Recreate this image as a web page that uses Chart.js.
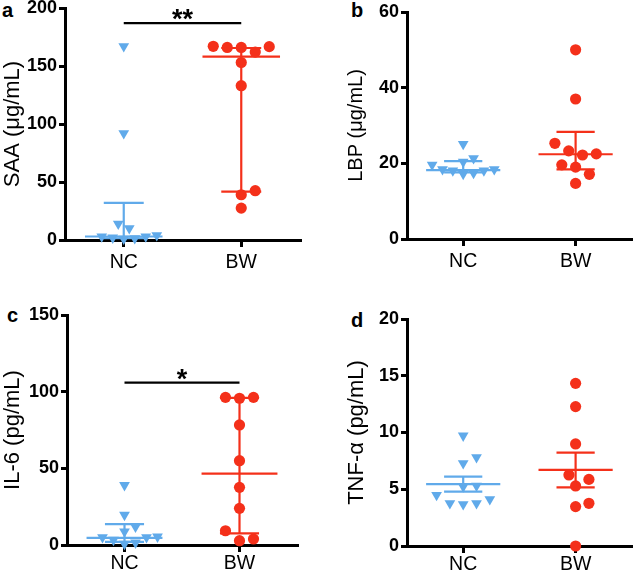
<!DOCTYPE html>
<html>
<head>
<meta charset="utf-8">
<script src="https://cdn.jsdelivr.net/npm/chart.js@4/dist/chart.umd.min.js"></script>
<style>
  html, body { margin: 0; padding: 0; background: #fff; }
  body { width: 638px; height: 574px; position: relative; overflow: hidden; font-family: 'Liberation Sans', Arial, sans-serif; }
  .layer { position: absolute; left: 0; top: -20px; }
  .tag { position: absolute; font-weight: bold; font-size: 20px; line-height: 20px; color: #000; }
</style>
</head>
<body>
<div class="tag" style="left:2px;top:0px">a</div>
<div class="tag" style="left:351px;top:0px">b</div>
<div class="tag" style="left:7px;top:305px">c</div>
<div class="tag" style="left:351px;top:310px">d</div>
<canvas id="chartA" class="layer" width="638" height="614"></canvas>
<canvas id="chartB" class="layer" width="638" height="614"></canvas>
<canvas id="chartC" class="layer" width="638" height="614"></canvas>
<canvas id="chartD" class="layer" width="638" height="614"></canvas>
<script>
const categories = ['NC', 'BW'];

// a: SAA (µg/mL), median with interquartile range
const saaNC = [167, 92, 10, 14, 4, 3, 2, 1, 1.5, 3];
const saaBW = [167, 166, 162, 166, 166.7, 153, 133, 42.5, 39, 27.5];
const saaMid = [3, 158];
const saaLow = [1.5, 41.7];
const saaHigh = [32, 165.5];
const saaTicks = [0, 50, 100, 150, 200];

// b: LBP (µg/mL), median with interquartile range
const lbpNC = [25.1, 21.3, 19.6, 20.4, 18.4, 18.1, 17.2, 17.4, 18.1, 18.4];
const lbpBW = [50, 37, 25.3, 22.5, 22.2, 23.3, 19.6, 19.0, 17.1, 14.7];
const lbpMid = [18.2, 22.4];
const lbpLow = [17.6, 18.4];
const lbpHigh = [20.6, 28.3];
const lbpTicks = [0, 20, 40, 60];

// c: IL-6 (pg/mL), median with interquartile range
const il6NC = [39, 19.6, 11.9, 8.7, 5, 3.3, 1.5, 0.7, 5, 5.4];
const il6BW = [96.3, 95.7, 96.3, 78.3, 55, 37.6, 23.9, 9.3, 2.8, 3.9];
const il6Mid = [4.6, 46.6];
const il6Low = [2, 7.6];
const il6High = [13.6, 95.9];
const il6Ticks = [0, 50, 100, 150];

// d: TNF-α (pg/mL), mean ± SEM
const tnfNC = [9.72, 7.81, 7.28, 5.31, 5.23, 4.49, 3.76, 3.67, 3.76, 4.11];
const tnfBW = [14.33, 12.28, 8.99, 6.26, 5.87, 5.29, 3.76, 3.47, 0];
const tnfMid = [5.46, 6.70];
const tnfLow = [4.79, 5.17];
const tnfHigh = [6.11, 8.22];
const tnfTicks = [0, 5, 10, 15, 20];

// significance brackets: [from, to, value]
const saaSig = [1, 2, 187];
const il6Sig = [1, 2, 105.9];

const BLUE = '#60aaea';
const RED = '#f4301a';
const FONT = "'Liberation Sans', Arial, sans-serif";
const OFF = 20; // canvases are shifted up by this much

// simple beeswarm: spread points sideways so markers don't overlap
function swarm(values, pxPerUnit, gap) {
  const order = values.map((v, i) => i).sort((i, j) => values[i] - values[j]);
  const placed = [];
  const off = new Array(values.length);
  for (const i of order) {
    const y = values[i] * pxPerUnit;
    for (let k = 0; k < 40; k++) {
      const cands = k === 0 ? [0] : [k * gap / 2, -k * gap / 2];
      const ok = cands.find(c => placed.every(p => Math.hypot(p.x - c, p.y - y) >= gap * 0.95));
      if (ok !== undefined) {
        off[i] = ok;
        placed.push({ x: ok, y: y });
        break;
      }
    }
  }
  return off;
}

function segment(x0, x1, y0, y1, color) {
  return {
    type: 'scatter', showLine: true, data: [{ x: x0, y: y0 }, { x: x1, y: y1 }],
    borderColor: color, borderWidth: 2.2, pointRadius: 0, clip: false, order: 0
  };
}

const sigPlugin = {
  id: 'sig',
  afterDatasetsDraw(chart, args, opts) {
    if (!opts.text) return;
    const { ctx, scales } = chart;
    const x = scales.x.getPixelForValue((opts.from + opts.to) / 2);
    const y = scales.y.getPixelForValue(opts.value);
    ctx.save();
    ctx.fillStyle = '#000';
    ctx.font = 'bold 27px ' + FONT;
    ctx.textAlign = 'center';
    ctx.textBaseline = 'alphabetic';
    ctx.fillText(opts.text, x, y + opts.dy);
    ctx.restore();
  }
};

function makePanel(id, p) {
  const areaW = p.area.right - p.area.left;
  const areaH = p.area.bottom - p.area.top;
  const ymax = p.ticks[p.ticks.length - 1];
  const pxY = areaH / ymax;
  const pxX = areaW / 2;
  const groups = [p.nc, p.bw];
  const datasets = [];
  const colors = [BLUE, RED];

  for (let g = 0; g < 2; g++) {
    const cx = g + 1;
    const c = colors[g];
    datasets.push(segment(cx, cx, p.low[g], p.high[g], c));
    datasets.push(segment(cx - 0.33, cx + 0.33, p.mid[g], p.mid[g], c));
    datasets.push(segment(cx - 0.17, cx + 0.17, p.low[g], p.low[g], c));
    datasets.push(segment(cx - 0.17, cx + 0.17, p.high[g], p.high[g], c));
  }
  if (p.sig) {
    datasets.push(segment(p.sig[0], p.sig[1], p.sig[2], p.sig[2], '#000'));
  }
  for (let g = 0; g < 2; g++) {
    const vals = groups[g];
    const gap = g === 0 ? p.gapTri : p.gapDot;
    const off = swarm(vals, pxY, gap);
    datasets.push({
      type: 'scatter',
      data: vals.map((v, i) => ({ x: g + 1 + off[i] / pxX, y: v })),
      pointStyle: g === 0 ? 'triangle' : 'circle',
      rotation: g === 0 ? 180 : 0,
      pointRadius: g === 0 ? 6.2 : 5.6,
      backgroundColor: colors[g],
      borderWidth: 0,
      clip: false,
      order: 1
    });
  }

  const canvasH = 574 + OFF * 2;
  const yWidth = p.area.left - p.titleLeft;
  const xHeight = 40;

  new Chart(document.getElementById(id), {
    type: 'scatter',
    data: { datasets },
    plugins: [sigPlugin],
    options: {
      responsive: false,
      animation: false,
      events: [],
      layout: {
        padding: {
          left: p.titleLeft,
          right: 638 - p.area.right,
          top: p.area.top + OFF,
          bottom: canvasH - (p.area.bottom + OFF) - xHeight
        }
      },
      plugins: {
        legend: { display: false },
        tooltip: { enabled: false },
        sig: p.sig ? { from: p.sig[0], to: p.sig[1], value: p.sig[2], text: p.sigText, dy: p.sigDy } : {}
      },
      scales: {
        x: {
          type: 'linear', min: 0.5, max: 2.5,
          afterBuildTicks: s => { s.ticks = [{ value: 1 }, { value: 2 }]; },
          afterFit: s => { s.height = xHeight; },
          ticks: {
            callback: v => categories[v - 1],
            color: '#000', padding: p.xPad,
            font: { family: FONT, size: 19.5 }
          },
          grid: { drawOnChartArea: false, color: '#000', lineWidth: 3, tickLength: 7 },
          border: { color: '#000', width: 3 }
        },
        y: {
          type: 'linear', min: 0, max: ymax,
          afterBuildTicks: s => { s.ticks = p.ticks.map(v => ({ value: v })); },
          afterFit: s => { s.width = yWidth; },
          ticks: {
            color: '#000', padding: 2,
            font: { family: FONT, size: 18, weight: 'bold' }
          },
          grid: { drawOnChartArea: false, color: '#000', lineWidth: 3, tickLength: 6 },
          border: { color: '#000', width: 3 },
          title: {
            display: true, text: p.title, color: '#000', padding: 0,
            font: { family: FONT, size: p.titleSize }
          }
        }
      }
    }
  });
}

makePanel('chartA', {
  nc: saaNC, bw: saaBW, mid: saaMid, low: saaLow, high: saaHigh, ticks: saaTicks,
  title: 'SAA (μg/mL)', titleSize: 22, titleLeft: 0, xPad: 4,
  area: { left: 65, right: 300, top: 8, bottom: 240 },
  gapTri: 11, gapDot: 14, sig: saaSig, sigText: '**', sigDy: 5
});
makePanel('chartB', {
  nc: lbpNC, bw: lbpBW, mid: lbpMid, low: lbpLow, high: lbpHigh, ticks: lbpTicks,
  title: 'LBP (μg/mL)', titleSize: 20, titleLeft: 344, xPad: 4,
  area: { left: 407, right: 635, top: 12, bottom: 239 },
  gapTri: 10.5, gapDot: 14
});
makePanel('chartC', {
  nc: il6NC, bw: il6BW, mid: il6Mid, low: il6Low, high: il6High, ticks: il6Ticks,
  title: 'IL-6 (pg/mL)', titleSize: 22, titleLeft: 0, xPad: 0,
  area: { left: 67, right: 297, top: 315, bottom: 545 },
  gapTri: 11, gapDot: 14, sig: il6Sig, sigText: '*', sigDy: 5
});
makePanel('chartD', {
  nc: tnfNC, bw: tnfBW, mid: tnfMid, low: tnfLow, high: tnfHigh, ticks: tnfTicks,
  title: 'TNF-α (pg/mL)', titleSize: 22, titleLeft: 344, xPad: 0,
  area: { left: 407, right: 635, top: 319, bottom: 546 },
  gapTri: 13.5, gapDot: 13.5
});
</script>
</body>
</html>
